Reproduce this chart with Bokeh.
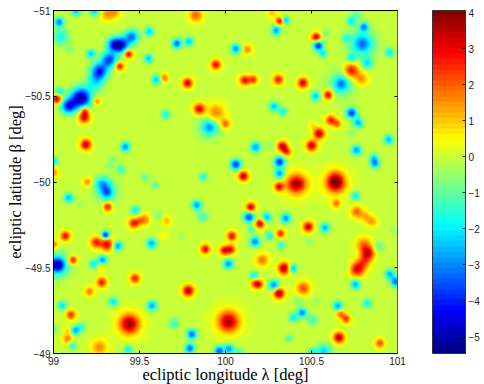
import numpy as np
from bokeh.plotting import figure
from bokeh.models import Range1d, LinearColorMapper, ColorBar, FixedTicker, LinearAxis
from bokeh.embed import file_html
from bokeh.resources import INLINE

x_ticks = [99, 99.5, 100, 100.5, 101]
x_labels = {99: "99", 99.5: "99.5", 100: "100", 100.5: "100.5", 101: "101"}
y_ticks = [-51, -50.5, -50, -49.5, -49]
y_labels = {-51: "\u221251", -50.5: "\u221250.5", -50: "\u221250", -49.5: "\u221249.5", -49: "\u221249"}
bar_ticks = [-5, -4, -3, -2, -1, 0, 1, 2, 3, 4]
bar_labels = {t: str(t).replace("-", "\u2212") for t in bar_ticks}
value_low, value_high = -5.47, 4.06
x_title = "ecliptic longitude \u03bb [deg]"
y_title = "ecliptic latitude \u03b2 [deg]"

# sources: (longitude, latitude, amplitude, width in deg)
sources_upper_left = [
    (99.128,-51.0,-2.5,.016),(99.235,-51.0,-2.5,.016),(99.313,-50.98,1.5,.025),(99.36,-50.995,1.2,.02),
    (99.03,-50.935,-3.2,.016),(99.04,-50.85,-1.8,.03),(99.09,-50.775,-.7,.016),(99.555,-50.88,-2.3,.016),
    (99.827,-50.975,2,.025),(99.717,-50.81,-3.5,.016),(99.788,-50.823,-2.5,.014),(100.06,-50.78,-3,.016),
    (99.454,-50.85,-3.2,.026),(99.39,-50.80,-4.4,.03),(99.345,-50.805,-3,.025),(99.322,-50.716,-3.7,.03),
    (99.264,-50.648,-4.1,.032),(99.216,-50.75,-2.4,.015),(99.24,-50.58,-1.8,.032),(99.433,-50.75,3.4,.014),
    (99.382,-50.678,3,.014),(99.551,-50.722,-2.4,.015),(99.598,-50.6,-2.4,.016),(99.643,-50.61,2,.013),
    (99.779,-50.58,3.3,.017),(99.944,-50.687,3,.017),(99.03,-50.53,-2,.014),(99.018,-50.487,3.6,.015),
    (99.157,-50.493,-5.2,.04),(99.085,-50.445,-4,.028),(99.249,-50.474,1.8,.012),(99.18,-50.42,2.6,.012),
    (99.177,-50.38,3.3,.02),(99.652,-50.396,-1.8,.015),(99.847,-50.429,3.2,.02),(99.944,-50.406,1.8,.035),
    (100.0,-50.342,2.1,.016),(99.905,-50.322,-2,.025),(99.905,-50.322,-1,.05),(99.186,-50.221,3.4,.019),
    (99.416,-50.208,-3,.016),(99.0,-50.124,-2,.014),(99.0,-50.06,1.5,.016),(100.06,-50.105,-4,.018),
    (99.87,-50.033,-1.8,.013),(99.346,-50.134,-.7,.016),(99.322,-50.095,-.5,.014),
    (99.39,-50.076,-1.4,.016),(99.53,-50.027,-.9,.016),(99.588,-49.979,-1,.014),(99.196,-50.0,1.7,.016),
    (99.283,-49.988,-2.3,.03),
]
sources_upper_right = [
    (100.273,-50.99,1,.02),(100.317,-50.94,3.3,.012),(100.35,-50.946,-2.6,.012),(100.296,-50.887,-2.9,.016),
    (100.127,-50.775,1.6,.017),(100.529,-50.847,3.4,.015),(100.541,-50.798,-4,.017),(100.583,-50.868,-.7,.015),
    (100.568,-50.751,-2,.013),(100.704,-50.843,-1.3,.015),(100.733,-50.94,-1.9,.016),(100.764,-50.979,-1,.02),
    (100.807,-50.907,-3,.015),(100.797,-50.808,-2,.035),(100.797,-50.808,-1.3,.06),(100.826,-50.697,-2,.02),
    (100.733,-50.726,-1.8,.014),(100.958,-50.759,-2,.015),(100.733,-50.652,3,.028),(100.791,-50.604,1.6,.025),
    (100.112,-50.596,3,.017),(100.162,-50.6,2.5,.014),(100.308,-50.6,2.8,.017),(100.451,-50.581,3.2,.018),
    (100.525,-50.503,-2.4,.016),(100.599,-50.511,3.3,.016),(100.675,-50.575,-2.2,.028),(100.675,-50.575,-1,.06),
    (100.282,-50.443,-2.5,.016),(100.335,-50.414,-1.9,.014),(100.735,-50.406,-4,.018),(100.774,-50.348,-2.7,.017),
    (100.613,-50.363,2.7,.017),(100.651,-50.342,2.0,.013),(100.545,-50.285,3.6,.019),(100.51,-50.33,.8,.012),
    (100.733,-50.285,-.6,.013),(100.952,-50.25,-2.6,.016),(100.176,-50.206,-3,.018),(100.263,-50.221,-.5,.016),
    (100.331,-50.212,3.4,.017),(100.356,-50.179,2.4,.015),(100.502,-50.215,3.5,.019),(100.764,-50.188,-3,.017),
    (100.865,-50.144,-2,.014),(100.871,-50.11,-3,.015),(100.315,-50.12,-4,.019),(100.104,-50.037,3.5,.017),
    (100.315,-50.052,-3,.016),(100.413,-49.988,3.2,.036),(100.413,-49.988,.7,.06),(100.642,-49.99,3.2,.034),
    (100.64,-50.03,1.4,.03),(100.642,-49.99,.7,.06),(100.312,-49.969,3,.015),
]
sources_lower_left = [
    (99.309,-49.936,-2.2,.022),(99.309,-49.936,-1,.05),(99.085,-49.905,-2.6,.016),(99.157,-49.868,-.4,.015),
    (99.313,-49.853,3,.015),(99.474,-49.833,-2,.015),(99.833,-49.862,-2.9,.017),(99.866,-49.795,-1.3,.02),
    (99.604,-49.804,-.6,.02),(99.656,-49.771,1.2,.015),(99.53,-49.779,1.6,.02),(99.497,-49.769,1.2,.015),
    (99.464,-49.756,2.7,.017),(99.066,-49.682,3,.016),(99.245,-49.645,2.6,.02),(99.309,-49.633,3.1,.024),
    (99.301,-49.688,-4.5,.011),(99.371,-49.624,-3,.016),(99.569,-49.639,-2.8,.017),(99.637,-49.684,.6,.014),
    (99.746,-49.678,-.5,.012),(100.037,-49.682,3,.016),(99.882,-49.606,3,.016),(99.992,-49.598,2.8,.016),
    (100.031,-49.604,2.7,.016),(99.0,-49.633,1.8,.014),(99.02,-49.513,-3.5,.025),(99.02,-49.513,-2,.05),
    (99.109,-49.542,3,.014),(99.229,-49.519,-2,.014),(99.283,-49.542,-3,.016),(99.278,-49.503,1,.012),
    (100.017,-49.519,-3,.017),(99.472,-49.435,2.7,.017),(99.278,-49.412,2.8,.017),(99.206,-49.358,1.8,.015),
    (99.783,-49.363,3.6,.02),(99.346,-49.299,-2.2,.015),(99.047,-49.276,-2.2,.015),(99.571,-49.276,-2.8,.017),
    (99.099,-49.222,2.5,.016),(99.439,-49.169,3.1,.036),(99.439,-49.169,.8,.055),(99.701,-49.173,-1.4,.018),
    (100.017,-49.183,2.9,.038),(100.017,-49.183,.8,.06),(99.163,-49.154,-1.3,.014),(99.126,-49.132,-2.8,.015),
    (99.0,-49.134,-1,.014),(99.08,-49.082,1.8,.016),(99.08,-49.13,1,.012),(99.804,-49.109,-3.5,.017),
    (99.109,-49.043,-1.6,.013),(99.264,-49.033,1.6,.03),(99.433,-49.018,-2,.015),(99.792,-49.027,-3.5,.016),
    (99.963,-49.012,-3.7,.016),(100.021,-49.024,-3,.016),(100.08,-48.998,-1.5,.017),
]
sources_lower_right = [
    (100.646,-49.872,1.8,.014),(100.758,-49.915,-2,.015),(100.147,-49.849,3.4,.016),(100.137,-49.793,-3.8,.019),
    (100.201,-49.754,3.3,.016),(100.24,-49.791,-2.6,.016),(100.352,-49.785,-3,.017),(100.482,-49.736,3.4,.018),
    (100.58,-49.73,-2.7,.016),(100.152,-49.717,-1.2,.014),(100.257,-49.684,-1.8,.014),(100.321,-49.697,2.6,.014),
    (100.172,-49.649,-3.2,.017),(100.325,-49.629,-1.6,.013),(100.486,-49.649,-.5,.015),(100.764,-49.824,1.9,.022),
    (100.816,-49.795,1.2,.02),(100.855,-49.765,1.4,.018),(100.981,-49.717,-.5,.013),(100.894,-49.62,-1,.02),
    (100.807,-49.629,1.9,.03),(100.832,-49.581,3,.024),(100.807,-49.532,1.8,.025),(100.768,-49.488,3,.028),
    (100.214,-49.542,1.8,.023),(100.341,-49.494,3.6,.022),(100.393,-49.494,-2.7,.013),(100.166,-49.451,-2,.014),
    (100.17,-49.406,1.9,.015),(100.195,-49.4,2.5,.015),(100.282,-49.396,-3.1,.018),(100.312,-49.348,3.9,.019),
    (100.453,-49.377,2.2,.026),(100.758,-49.4,-2.8,.016),(100.958,-49.46,-2.7,.016),(100.991,-49.416,-3.5,.016),
    (100.706,-49.503,-.4,.014),(100.428,-49.305,-.7,.018),(100.531,-49.3,-.5,.016),(100.655,-49.274,-2.8,.016),
    (100.826,-49.29,-2,.015),(100.447,-49.235,-3.1,.016),(100.395,-49.206,-2,.015),(100.671,-49.228,2.0,.014),
    (100.704,-49.198,2.4,.014),(100.506,-49.193,-1.3,.02),(100.37,-49.086,-1.2,.013),(100.661,-49.09,3.7,.019),
    (100.9,-49.057,2.3,.015),(100.574,-49.008,-2.3,.028),(100.506,-49.002,-1.5,.018),
]

# MATLAB-style jet colour table, 64 steps
steps = (np.arange(64) + 0.5) / 64
channel = lambda c: np.clip(1.5 - np.abs(4 * steps - c), 0, 1)
jet = ["#%02x%02x%02x" % tuple(int(round(v * 255)) for v in rgb)
       for rgb in zip(channel(3), channel(2), channel(1))]

# the field: every source smoothed onto a regular grid
n = 344
lons = np.linspace(99, 101, n)
lats = np.linspace(-51, -49, n)
field = np.zeros((n, n))
for lon, lat, amp, w in sources_upper_left + sources_upper_right + sources_lower_left + sources_lower_right:
    w = np.hypot(w, 0.011)
    gx = np.exp(-0.5 * ((lons - lon) / w) ** 2)
    gy = np.exp(-0.5 * ((lats - lat) / w) ** 2)
    field += amp * np.outer(gy, gx)
field = np.clip(field, value_low, value_high)

mapper = LinearColorMapper(palette=jet, low=value_low, high=value_high)

p = figure(frame_width=344, frame_height=343, output_backend="svg", toolbar_location=None,
           x_range=Range1d(99, 101), y_range=Range1d(-49, -51),
           min_border_left=53, min_border_top=10, min_border_bottom=30, min_border_right=80,
           outline_line_color=None, background_fill_color="white", border_fill_color="white")
p.grid.visible = False

p.image(image=[field], x=99, y=-51, dw=2, dh=2, color_mapper=mapper)

FONT = "Liberation Sans"
SERIF = "Liberation Serif"
for ax, ticks, labels in ((p.xaxis[0], x_ticks, x_labels), (p.yaxis[0], y_ticks, y_labels)):
    ax.ticker = FixedTicker(ticks=ticks)
    ax.major_label_overrides = labels
    ax.major_tick_in, ax.major_tick_out = 3, 0
    ax.minor_tick_line_color = None
    ax.major_label_text_font = FONT
    ax.major_label_text_font_size = "10px"
    ax.major_label_text_color = "#222222"
    ax.axis_label_text_font = SERIF
    ax.axis_label_text_font_size = "16.5px"
    ax.axis_label_text_font_style = "normal"
    ax.axis_label_text_color = "black"
    ax.axis_line_color = "black"
    ax.major_tick_line_color = "black"
p.xaxis[0].axis_label = x_title
p.yaxis[0].axis_label = y_title
p.xaxis[0].major_label_standoff = 3
p.xaxis[0].axis_label_standoff = -3
p.yaxis[0].major_label_standoff = 3
p.yaxis[0].axis_label_standoff = -3

top = LinearAxis(ticker=FixedTicker(ticks=x_ticks), major_label_overrides={t: "" for t in x_ticks},
                 major_tick_in=3, major_tick_out=0, minor_tick_line_color=None, axis_line_color="black")
right = LinearAxis(ticker=FixedTicker(ticks=y_ticks), major_label_overrides={t: "" for t in y_ticks},
                   major_tick_in=3, major_tick_out=0, minor_tick_line_color=None, axis_line_color="#555555")
p.add_layout(top, "above")
p.add_layout(right, "right")

bar = ColorBar(color_mapper=mapper, width=33, height=343, padding=0, margin=0, location=(35, 0),
               ticker=FixedTicker(ticks=bar_ticks), major_label_overrides=bar_labels,
               major_tick_in=3, major_tick_line_color="#222222", minor_tick_line_color=None,
               bar_line_color="#333333", major_label_text_font=FONT, major_label_text_font_size="10px",
               major_label_text_color="#222222", label_standoff=3, border_line_color=None,
               background_fill_color=None)
p.add_layout(bar, "right")

open("out.html", "w").write(file_html(p, INLINE))
